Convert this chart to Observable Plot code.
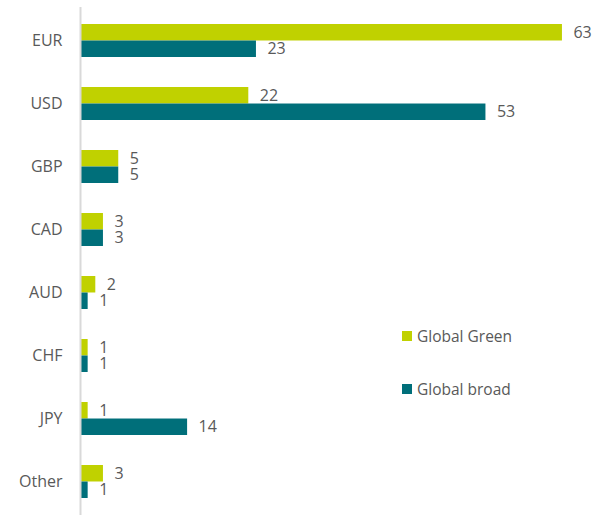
<!DOCTYPE html>
<html>
<head>
<meta charset="utf-8">
<script src="https://cdn.jsdelivr.net/npm/d3@7"></script>
<script src="https://cdn.jsdelivr.net/npm/@observablehq/plot@0.6"></script>
<style>
  html, body { margin: 0; padding: 0; background: #fff; }
  #wrap { position: relative; width: 595px; height: 515px; font-family: "Open Sans", sans-serif; }
  .leg { position: absolute; left: 402px; font-size: 15.5px; color: #595959; display: flex; align-items: center; white-space: nowrap; }
  .sw { width: 10px; height: 10px; margin-right: 5px; display: inline-block; }
</style>
</head>
<body>
<div id="wrap"></div>
<script>
const categories = ["EUR", "USD", "GBP", "CAD", "AUD", "CHF", "JPY", "Other"];
const globalGreen = [63, 22, 5, 3, 2, 1, 1, 3];
const globalBroad = [23, 53, 5, 3, 1, 1, 14, 1];
const seriesNames = ["Global Green", "Global broad"];
const colors = ["#c0d100", "#006f7a"];

const green = categories.map((c, i) => ({cat: c, v: globalGreen[i]}));
const broad = categories.map((c, i) => ({cat: c, v: globalBroad[i]}));

const W = 595, H = 515;
const mTop = 7, mBottom = 0;
const pInner = 0.48;
const step = (H - mTop - mBottom) / categories.length;
const bw = step * (1 - pInner);
const half = bw / 2;

const textStyle = {fill: "#595959", fontSize: 16, textAnchor: "start"};

const chart = Plot.plot({
  width: W,
  height: H,
  marginLeft: 80,
  marginRight: 30,
  marginTop: mTop,
  marginBottom: mBottom,
  style: {fontFamily: "Open Sans, sans-serif", fontSize: "16px", color: "#595959", background: "#fff"},
  x: {domain: [0, 63.4], axis: null},
  y: {domain: categories, paddingInner: pInner, paddingOuter: pInner / 2, tickSize: 0, tickPadding: 18, label: null},
  marks: [
    Plot.barX(green, {x: "v", y: "cat", fill: colors[0], insetBottom: half, insetTop: 0}),
    Plot.barX(broad, {x: "v", y: "cat", fill: colors[1], insetTop: half, insetBottom: 0}),
    Plot.text(green, {x: "v", y: "cat", text: d => String(d.v), dx: 11, dy: -half / 2, ...textStyle}),
    Plot.text(broad, {x: "v", y: "cat", text: d => String(d.v), dx: 11, dy: half / 2, ...textStyle}),
    Plot.ruleX([0], {stroke: "#d9d9d9", strokeWidth: 2})
  ]
});

const wrap = document.getElementById("wrap");
wrap.appendChild(chart);

const legendTops = [325, 378];
seriesNames.forEach((name, i) => {
  const d = document.createElement("div");
  d.className = "leg";
  d.style.top = legendTops[i] + "px";
  d.innerHTML = `<span class="sw" style="background:${colors[i]}"></span><span>${name}</span>`;
  wrap.appendChild(d);
});
</script>
</body>
</html>
